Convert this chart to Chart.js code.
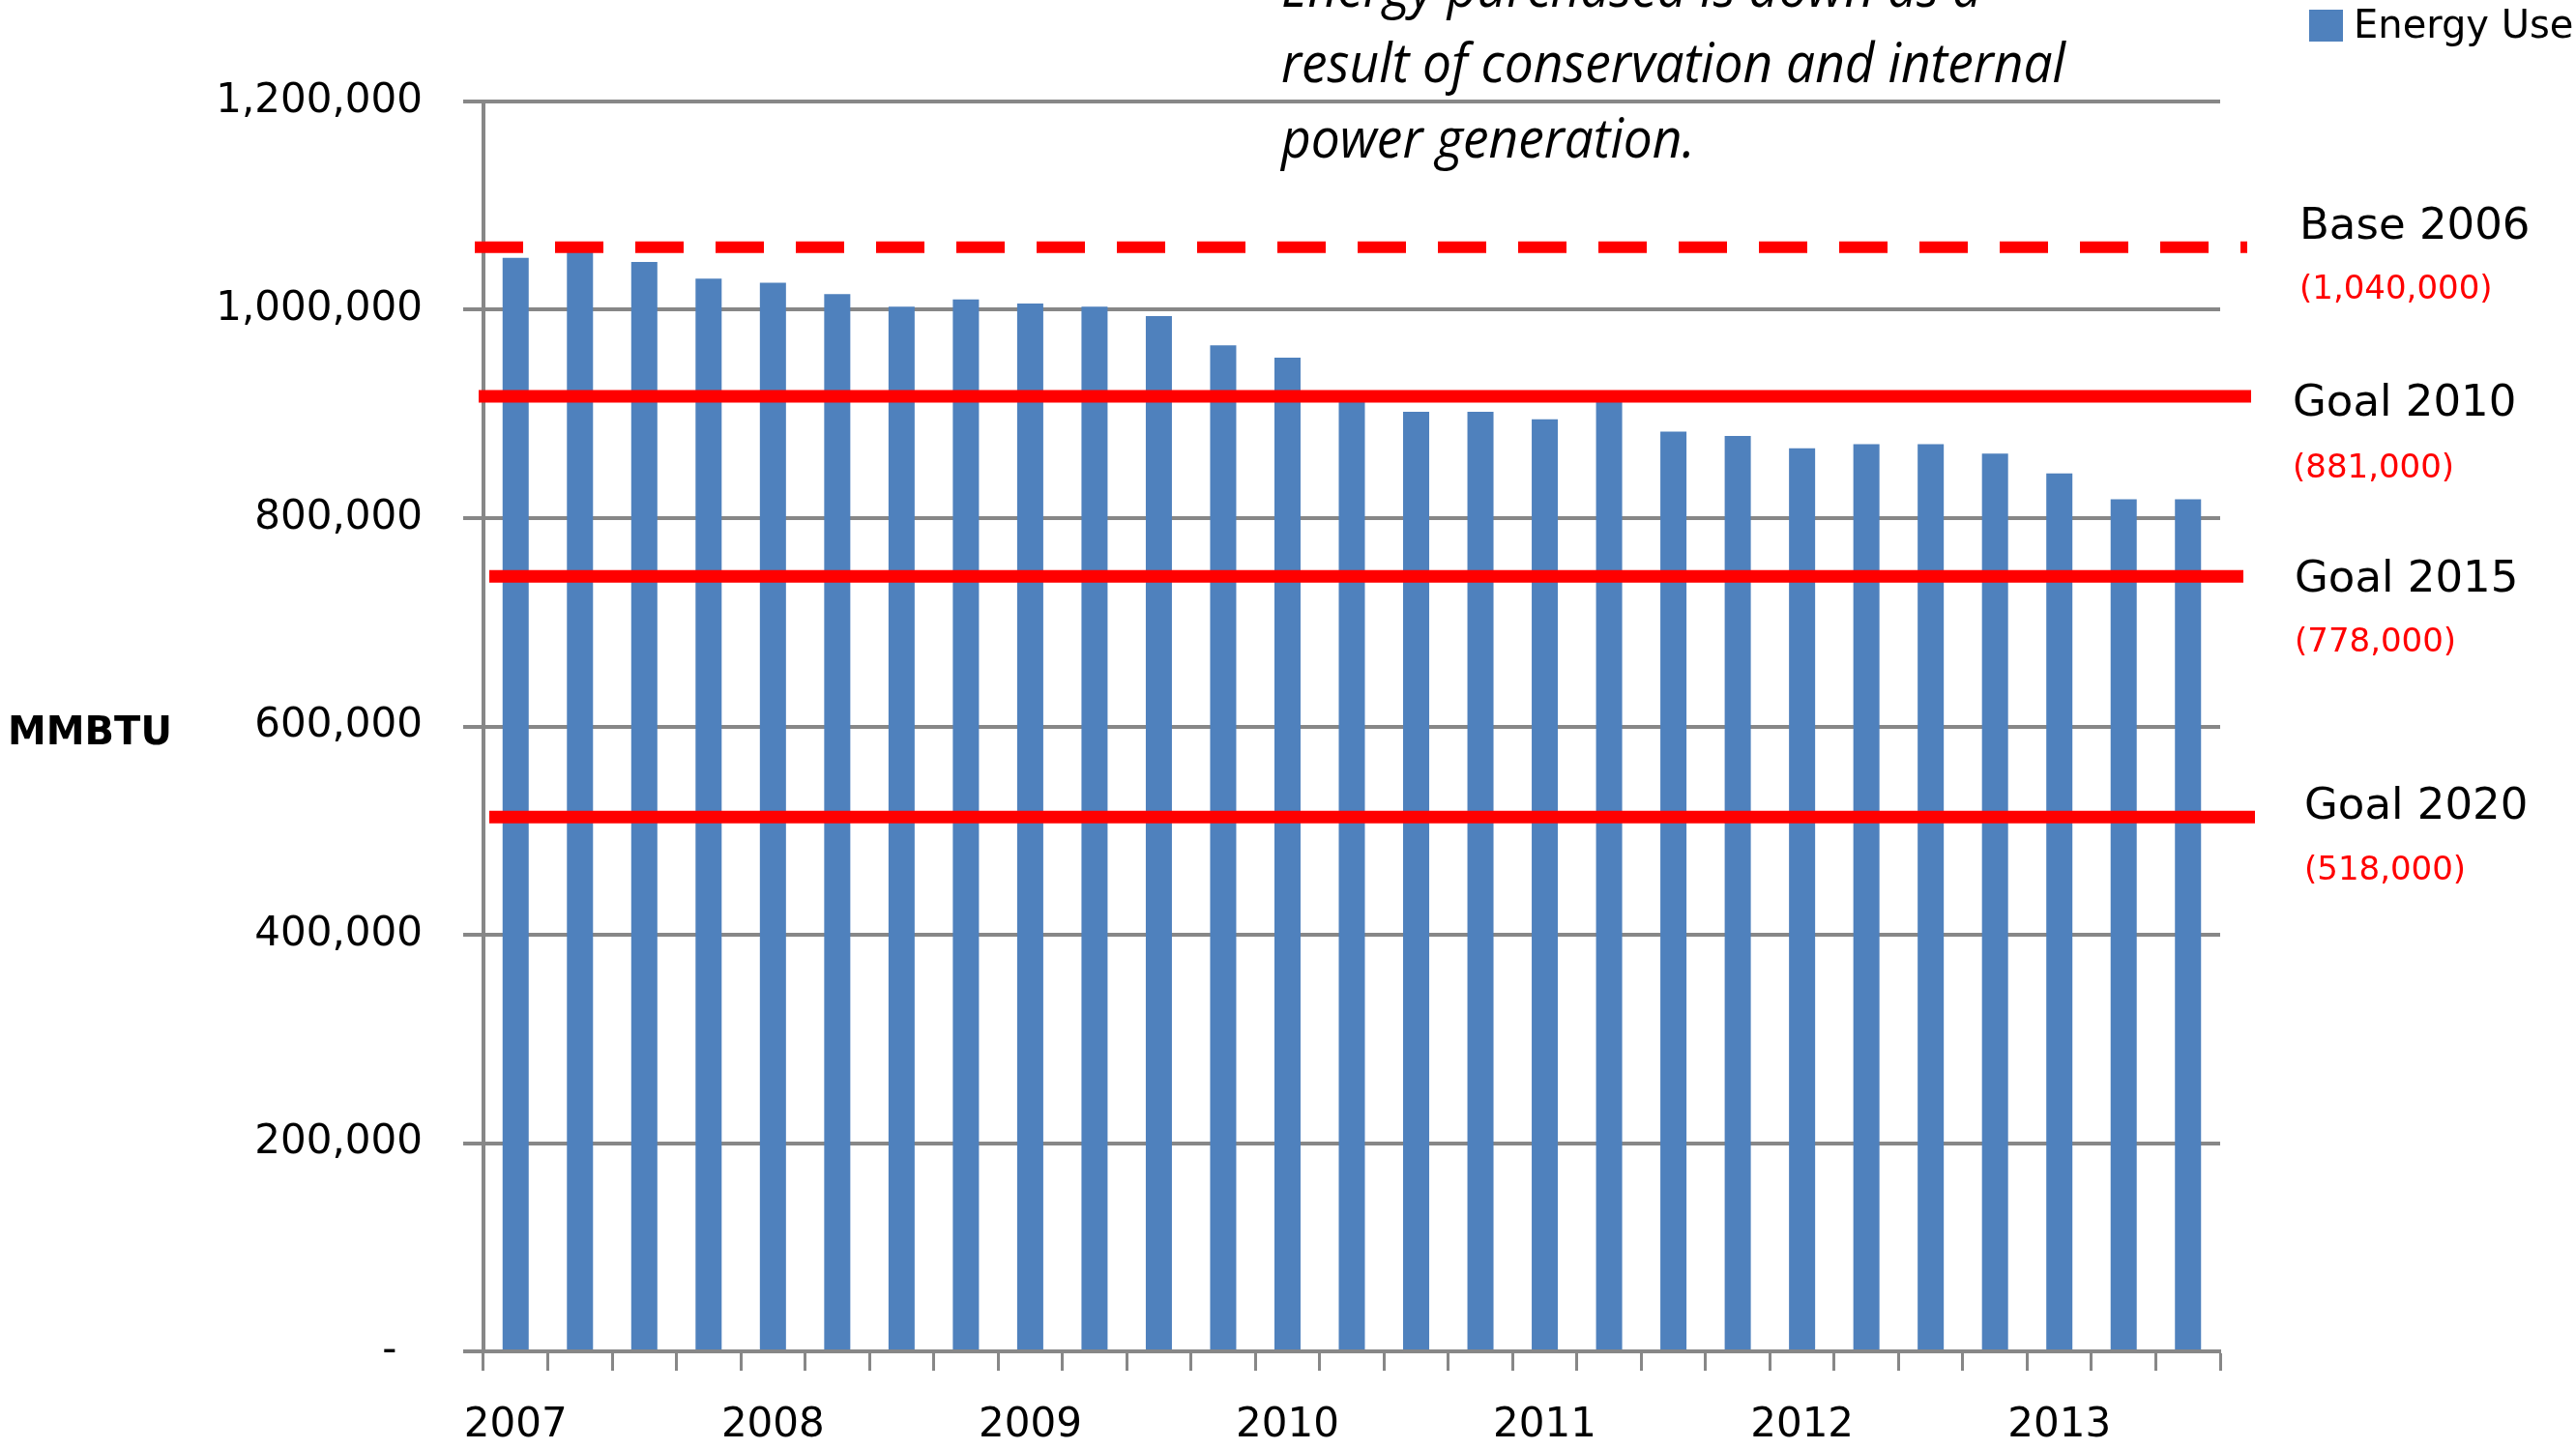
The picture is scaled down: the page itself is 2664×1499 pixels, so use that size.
<!DOCTYPE html>
<html>
<head>
<meta charset="utf-8">
<script src="https://cdn.jsdelivr.net/npm/chart.js@4.4.1/dist/chart.umd.min.js"></script>
<style>
  html, body { margin: 0; padding: 0; background: #fff; }
</style>
</head>
<body>
<canvas id="chart" width="2664" height="1499"></canvas>
<script>
// quarterly purchased energy, 2007 Q1 .. 2013 Q3
const quarters = [
  '2007 Q1', '2007 Q2', '2007 Q3', '2007 Q4',
  '2008 Q1', '2008 Q2', '2008 Q3', '2008 Q4',
  '2009 Q1', '2009 Q2', '2009 Q3', '2009 Q4',
  '2010 Q1', '2010 Q2', '2010 Q3', '2010 Q4',
  '2011 Q1', '2011 Q2', '2011 Q3', '2011 Q4',
  '2012 Q1', '2012 Q2', '2012 Q3', '2012 Q4',
  '2013 Q1', '2013 Q2', '2013 Q3'
]
const energyUse = [
  1050000, 1058000, 1046000, 1030000,
  1026000, 1015000, 1003000, 1010000,
  1006000, 1003000, 994000, 966000,
  954000, 915000, 902000, 902000,
  895000, 917000, 883000, 879000,
  867000, 871000, 871000, 862000,
  843000, 818000, 818000
]
const yTicks = [0, 200000, 400000, 600000, 800000, 1000000, 1200000]

// target lines: names, where the line sits on the plot, and the printed value
const targetNames = ['Base 2006', 'Goal 2010', 'Goal 2015', 'Goal 2020']
const targetLevels = [1060000, 917000, 744000, 513000]
const targetValues = ['(1,040,000)', '(881,000)', '(778,000)', '(518,000)']

const noteLines = [
  'Energy purchased is down as a',
  'result of conservation and internal',
  'power generation.'
]

const BLUE = '#4F81BD'
const GREY = '#878787'
const RED = '#FF0000'

// drawing style for the target lines and labels (pixels relative to the chart area)
const targetStyle = [
  { dash: [50, 33], width: 12, from: -9, to: 28, labelX: 82, nameDy: -21, valueDy: 44 },
  { dash: [], width: 13, from: -5, to: 32, labelX: 75, nameDy: 8, valueDy: 75 },
  { dash: [], width: 13, from: 6, to: 24, labelX: 77, nameDy: 4, valueDy: 69 },
  { dash: [], width: 13, from: 6, to: 36, labelX: 87, nameDy: -10, valueDy: 56 }
]

const targetPlugin = {
  id: 'targets',
  afterDatasetsDraw (chart) {
    const { ctx, chartArea, scales: { y } } = chart
    ctx.save()
    targetLevels.forEach((level, i) => {
      const st = targetStyle[i]
      const py = y.getPixelForValue(level)
      ctx.beginPath()
      ctx.setLineDash(st.dash)
      ctx.lineCap = 'butt'
      ctx.lineWidth = st.width
      ctx.strokeStyle = RED
      ctx.moveTo(chartArea.left + st.from, py)
      ctx.lineTo(chartArea.right + st.to, py)
      ctx.stroke()
    })
    ctx.setLineDash([])
    ctx.textBaseline = 'middle'
    ctx.textAlign = 'left'
    targetLevels.forEach((level, i) => {
      const st = targetStyle[i]
      const py = y.getPixelForValue(level)
      ctx.fillStyle = '#000'
      ctx.font = '45px "DejaVu Sans"'
      ctx.fillText(targetNames[i], chartArea.right + st.labelX, py + st.nameDy)
      ctx.fillStyle = RED
      ctx.font = '34px "DejaVu Sans"'
      ctx.fillText(targetValues[i], chartArea.right + st.labelX, py + st.valueDy)
    })
    ctx.restore()
  },
  afterDraw (chart) {
    const { ctx, chartArea } = chart
    ctx.save()
    // note text, italic and narrow
    ctx.font = 'italic 56px "Open Sans", "Liberation Sans", sans-serif'
    ctx.fillStyle = '#000'
    ctx.textBaseline = 'alphabetic'
    const sx = 811 / ctx.measureText(noteLines[1]).width
    noteLines.forEach((line, i) => {
      ctx.save()
      ctx.translate(1325, 7 + i * 78)
      ctx.scale(sx, 1)
      ctx.fillText(line, 0, 0)
      ctx.restore()
    })
    // y axis title
    ctx.font = 'bold 40px "DejaVu Sans"'
    ctx.textBaseline = 'middle'
    ctx.fillText('MMBTU', 8, (chartArea.top + chartArea.bottom) / 2 + 8)
    // legend
    ctx.fillStyle = BLUE
    ctx.fillRect(2388, 10, 35, 33)
    ctx.fillStyle = '#000'
    ctx.font = '40px "DejaVu Sans"'
    ctx.fillText(chart.data.datasets[0].label, 2434, 29)
    ctx.restore()
  }
}

new Chart(document.getElementById('chart'), {
  type: 'bar',
  data: {
    labels: quarters,
    datasets: [{
      label: 'Energy Use',
      data: energyUse,
      backgroundColor: BLUE,
      borderWidth: 0,
      barPercentage: 0.406,
      categoryPercentage: 1.0
    }]
  },
  options: {
    responsive: false,
    animation: false,
    devicePixelRatio: 1,
    layout: { autoPadding: false, padding: { top: 105, right: 368, left: 0, bottom: 0 } },
    plugins: {
      legend: { display: false },
      tooltip: { enabled: false }
    },
    scales: {
      x: {
        afterFit: s => { s.height = 101 },
        grid: {
          display: true,
          offset: true,
          drawOnChartArea: false,
          tickLength: 20,
          tickWidth: 3,
          tickColor: GREY
        },
        border: { display: true, color: GREY, width: 4 },
        ticks: {
          autoSkip: false,
          maxRotation: 0,
          padding: 32,
          color: '#000',
          font: { family: 'DejaVu Sans', size: 42 },
          callback: function (value) {
            const q = this.getLabelForValue(value)
            return q.endsWith('Q1') ? q.slice(0, 4) : ''
          }
        }
      },
      y: {
        min: 0,
        max: 1200000,
        afterFit: s => { s.width = 500 },
        afterBuildTicks: s => { s.ticks = yTicks.map(v => ({ value: v })) },
        grid: {
          color: GREY,
          lineWidth: 4,
          tickLength: 21,
          tickColor: GREY
        },
        border: { display: true, color: GREY, width: 4 },
        ticks: {
          padding: 42,
          color: '#000',
          font: { family: 'DejaVu Sans', size: 42 },
          callback: v => v === 0 ? '-  ' : v.toLocaleString('en-US')
        }
      }
    }
  },
  plugins: [targetPlugin]
})
</script>
</body>
</html>
